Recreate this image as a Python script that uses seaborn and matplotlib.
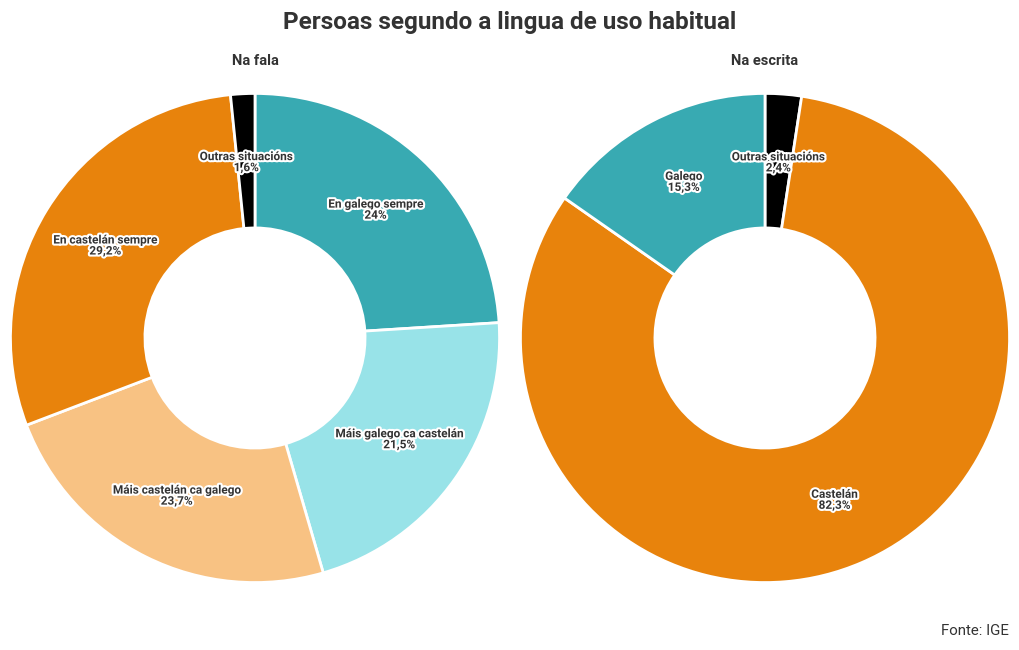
import matplotlib
matplotlib.use("Agg")
import matplotlib.pyplot as plt
import matplotlib.patheffects as pe
import seaborn as sns

## Data ##
fala_labels = ["En galego sempre", "Máis galego ca castelán", "Máis castelán ca galego",
               "En castelán sempre", "Outras situacións"]
fala_values = [24.0, 21.5, 23.7, 29.2, 1.6]
fala_colors = ["#38aab2", "#98e3e8", "#f8c283", "#e8830c", "#000000"]

escrita_labels = ["Outras situacións", "Castelán", "Galego"]
escrita_values = [2.4, 82.3, 15.3]
escrita_colors = ["#000000", "#e8830c", "#38aab2"]

title = "Persoas segundo a lingua de uso habitual"
subtitles = ["Na fala", "Na escrita"]
source = "Fonte: IGE"

sns.set_theme(style="white")
plt.rcParams['font.family'] = ['Roboto', 'DejaVu Sans']

W, H = 1020, 650
fig = plt.figure(figsize=(W / 100, H / 100), dpi=100)


def fmt(v):
    return f"{v:g}".replace('.', ',') + '%'


def donut(rect, labels, values, colors):
    ax = fig.add_axes(rect)
    wedges, _, autotexts = ax.pie(
        values, colors=colors, startangle=90, counterclock=False,
        radius=1, autopct='%1.1f', pctdistance=0.72,
        wedgeprops=dict(width=0.55, edgecolor='white', linewidth=2),
    )
    for t, lab, v in zip(autotexts, labels, values):
        t.set_text(f"{lab}\n{fmt(v)}")
        t.set_fontsize(8.5)
        t.set_fontweight('bold')
        t.set_color('#333333')
        t.set_linespacing(0.8)
        t.set_path_effects([pe.withStroke(linewidth=3, foreground='white')])
    ax.set_xlim(-1.01, 1.01)
    ax.set_ylim(-1.01, 1.01)
    ax.set_aspect('equal')
    ax.axis('off')
    return ax


# pixel geometry of each donut (left, bottom, width, height)
size = 494
donut([8 / W, (H - 585) / H, size / W, size / H], fala_labels, fala_values, fala_colors)
donut([518 / W, (H - 585) / H, size / W, size / H], escrita_labels, escrita_values, escrita_colors)

fig.text(0.5, 1 - 23 / H, title, ha='center', va='center', fontsize=17.5, fontweight='bold', color='#333333')
fig.text(255 / W, 1 - 61 / H, subtitles[0], ha='center', va='center', fontsize=10.5, fontweight='bold', color='#333333')
fig.text(765 / W, 1 - 61 / H, subtitles[1], ha='center', va='center', fontsize=10.5, fontweight='bold', color='#333333')
fig.text(1009 / W, 1 - 631 / H, source, ha='right', va='center', fontsize=10.8, color='#333333')

plt.savefig("out.png", dpi=100)
